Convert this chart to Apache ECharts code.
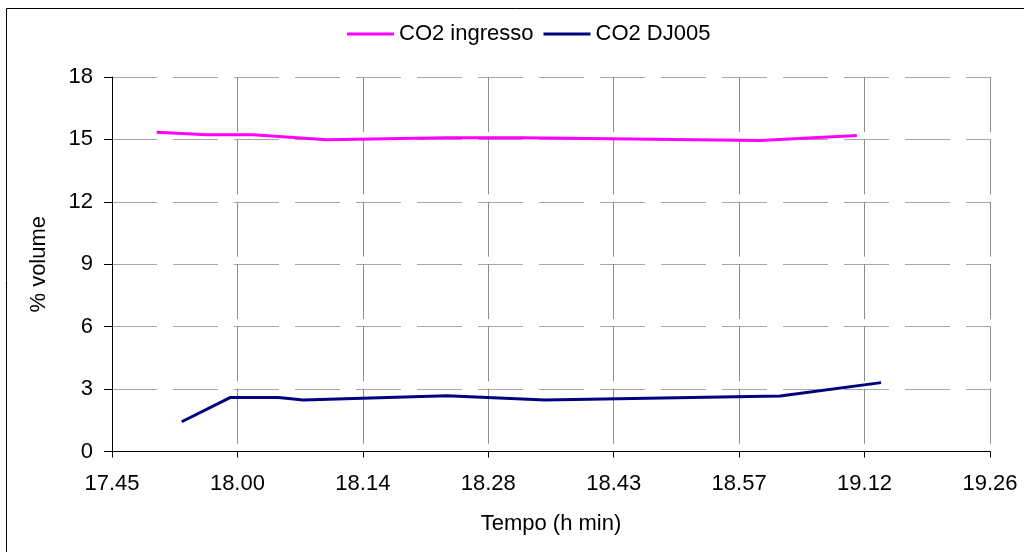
<!DOCTYPE html>
<html>
<head>
<meta charset="utf-8">
<script src="https://cdn.jsdelivr.net/npm/echarts@6/dist/echarts.min.js"></script>
<style>
html,body{margin:0;padding:0;background:#fff;}
#chart{width:1024px;height:552px;}
</style>
</head>
<body>
<div id="chart"></div>
<script>
// X tick labels (time h.min), one every 0.01 day
const tickLabels = ['17.45','18.00','18.14','18.28','18.43','18.57','19.12','19.26'];
// CO2 ingresso
const timesIngresso = ['17:50:44','17:56:28','18:01:47','18:10:15','18:24:04','18:32:48','19:00:00','19:11:07'];
const co2Ingresso   = [15.35, 15.22, 15.22, 14.98, 15.08, 15.08, 14.95, 15.19];
// CO2 DJ005
const timesDJ005 = ['17:53:36','17:59:09','18:04:42','18:07:34','18:24:02','18:35:19','19:02:19','19:13:54'];
const co2DJ005   = [1.43, 2.59, 2.59, 2.48, 2.68, 2.48, 2.67, 3.31];
const seriesNames = ['CO2 ingresso', 'CO2 DJ005'];

// time -> hundredths of a day (axis unit)
function toAxis(t){
  const p = t.split(':').map(Number);
  return (p[0]*3600 + p[1]*60 + p[2]) / 864;
}
function pairs(times, vals){ return times.map((t,i)=>[toAxis(t), vals[i]]); }

const font = 'Liberation Sans, Arial, sans-serif';
const chart = echarts.init(document.getElementById('chart'), null, {renderer:'canvas'});
chart.setOption({
  animation:false,
  backgroundColor:'#fff',
  graphic:[{
    type:'rect', silent:true, z:-1,
    shape:{x:6.5,y:8.5,width:1100,height:600},
    style:{fill:'none',stroke:'#000',lineWidth:1}
  }],
  legend:{
    left:342, top:18,
    icon:'rect', itemWidth:47, itemHeight:3, itemGap:10,
    textStyle:{fontFamily:font,fontSize:22,color:'#000'},
    data:seriesNames
  },
  grid:{left:112,right:34,top:77,bottom:100.5,containLabel:false},
  xAxis:{
    type:'value', min:74, max:81, interval:1,
    name:'Tempo (h min)', nameLocation:'middle', nameGap:61,
    nameTextStyle:{fontFamily:font,fontSize:22,color:'#000'},
    axisLine:{show:true,onZero:false,lineStyle:{color:'#000',width:1}},
    axisTick:{show:true,inside:false,length:6,lineStyle:{color:'#000'}},
    axisLabel:{margin:21,fontFamily:font,fontSize:22,color:'#000',
      formatter:function(v){return tickLabels[Math.round(v-74)];}},
    splitLine:{show:true,lineStyle:{color:'#8c8c8c',width:1,type:[55,7.35]}}
  },
  yAxis:{
    type:'value', min:0, max:18, interval:3,
    name:'% volume', nameLocation:'middle', nameGap:62, nameRotate:90,
    nameTextStyle:{fontFamily:font,fontSize:22,color:'#000'},
    axisLine:{show:true,lineStyle:{color:'#000',width:1}},
    axisTick:{show:true,inside:false,length:8,lineStyle:{color:'#000'}},
    axisLabel:{margin:19,fontFamily:font,fontSize:22,color:'#000'},
    splitLine:{show:true,lineStyle:{color:'#a6a6a6',width:1,type:[45,16]}}
  },
  series:[
    {name:seriesNames[0],type:'line',showSymbol:false,symbol:'none',
     lineStyle:{color:'#ff00ff',width:3},itemStyle:{color:'#ff00ff'},
     data:pairs(timesIngresso,co2Ingresso)},
    {name:seriesNames[1],type:'line',showSymbol:false,symbol:'none',
     lineStyle:{color:'#000080',width:3},itemStyle:{color:'#000080'},
     data:pairs(timesDJ005,co2DJ005)}
  ]
});
</script>
</body>
</html>
